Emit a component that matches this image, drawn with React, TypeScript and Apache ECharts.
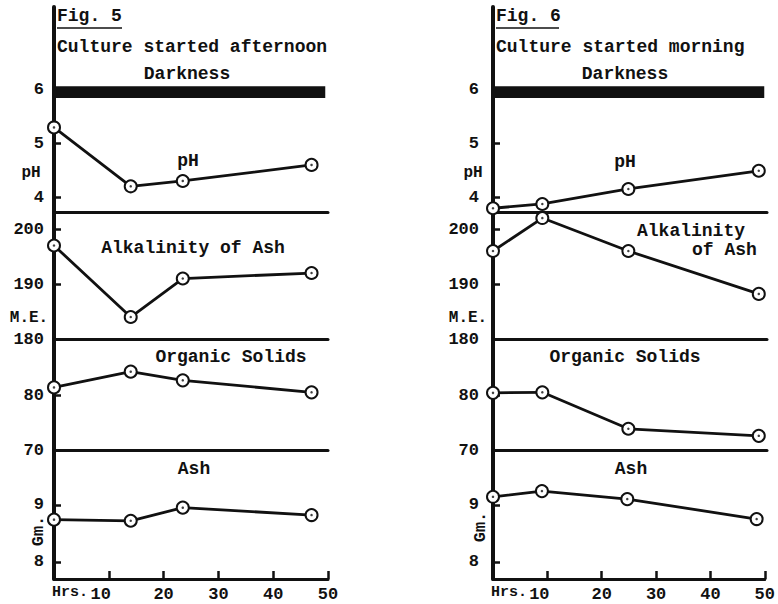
import React, { useEffect, useRef } from "react";
import * as echarts from "echarts";

// Fig. 5 — culture started afternoon
const hours5 = [0, 14, 23.5, 47];
const ph5 = [5.3, 4.2, 4.3, 4.6];
const alk5 = [197, 184, 191, 192];
const org5 = [81.5, 84.4, 82.8, 80.6];
const ash5 = [8.74, 8.72, 8.95, 8.82];

// Fig. 6 — culture started morning
const hours6 = [0, 9, 24.7, 48.5];
const ph6 = [3.79, 3.87, 4.15, 4.49];
const alk6 = [196, 202, 196, 188.2];
const org6 = [80.5, 80.6, 73.9, 72.6];
const ash6 = [9.14, 9.24, 9.1, 8.75];

// darkness band (pH units, hours)
const darkLow = 5.85;
const darkHigh = 6.07;
const darkEnd = 49.5;

const xTicks = [10, 20, 30, 40, 50];
const phTicks = [4, 5, 6];
const alkTicks = [180, 190, 200];
const orgTicks = [70, 80];
const ashTicks = [8, 9];

const INK = "#111";
const FONT = "Liberation Mono";

const panels = [
  { top: 7, height: 205, min: 3.72, max: 7.55, ticks: phTicks },
  { top: 212, height: 127, min: 180, max: 203.1, ticks: alkTicks },
  { top: 339, height: 111, min: 70, max: 90.4, ticks: orgTicks },
  { top: 450, height: 129, min: 7.7, max: 9.96, ticks: ashTicks },
];

function buildFig(
  base: number,
  left: number,
  hours: number[],
  values: number[][],
  labelMargin: number
) {
  const grids: any[] = [];
  const xAxes: any[] = [];
  const yAxes: any[] = [];
  const series: any[] = [];
  panels.forEach((p, k) => {
    const gi = base + k;
    const isBottom = k === panels.length - 1;
    grids.push({ left, top: p.top, width: 274, height: p.height });
    xAxes.push({
      type: "value",
      gridIndex: gi,
      min: 0,
      max: 50,
      axisLine: { show: true, lineStyle: { color: INK, width: 3 } },
      splitLine: { show: false },
      axisTick: isBottom
        ? { show: true, inside: true, length: 8, customValues: xTicks, lineStyle: { color: INK, width: 2.5 } }
        : { show: false },
      axisLabel: isBottom
        ? {
            show: true,
            customValues: xTicks,
            margin: 7,
            formatter: (v: number) => (v === 10 ? "{a|10}" : "{b|" + v + "}"),
            rich: {
              a: { fontFamily: FONT, fontWeight: "bold", fontSize: 17, color: INK, padding: [0, 16, 0, 0] },
              b: { fontFamily: FONT, fontWeight: "bold", fontSize: 17, color: INK },
            },
          }
        : { show: false },
    });
    yAxes.push({
      type: "value",
      gridIndex: gi,
      min: p.min,
      max: p.max,
      axisLine: { show: true, lineStyle: { color: INK, width: 4 } },
      splitLine: { show: false },
      axisTick: { show: true, inside: true, length: 7, customValues: p.ticks, lineStyle: { color: INK, width: 2.5 } },
      axisLabel: {
        show: true,
        customValues: p.ticks,
        margin: labelMargin,
        fontFamily: FONT,
        fontWeight: "bold",
        fontSize: 17,
        color: INK,
      },
    });
    const data = hours.map((h, i) => [h, values[k][i]]);
    const s: any = {
      type: "line",
      xAxisIndex: gi,
      yAxisIndex: gi,
      data,
      clip: false,
      symbol: "emptyCircle",
      symbolSize: 12,
      lineStyle: { color: INK, width: 2.8 },
      itemStyle: { color: INK, borderColor: INK, borderWidth: 3 },
      z: 3,
    };
    if (k === 0) {
      s.markArea = {
        silent: true,
        itemStyle: { color: INK },
        data: [[{ xAxis: 0, yAxis: darkLow }, { xAxis: darkEnd, yAxis: darkHigh }]],
      };
    }
    series.push(s);
    series.push({
      type: "scatter",
      xAxisIndex: gi,
      yAxisIndex: gi,
      data,
      clip: false,
      symbol: "circle",
      symbolSize: 2.5,
      itemStyle: { color: INK },
      z: 5,
    });
  });
  return { grids, xAxes, yAxes, series };
}

function txt(text: string, x: number, y: number, size: number, align = "left", rotation = 0) {
  return {
    type: "text",
    x,
    y,
    rotation,
    style: {
      text,
      fill: INK,
      fontFamily: FONT,
      fontWeight: "bold",
      fontSize: size,
      align,
      verticalAlign: "middle",
    },
    z: 10,
  };
}

export default function App() {
  const ref = useRef<HTMLDivElement>(null);
  useEffect(() => {
    if (!ref.current) return;
    const chart = echarts.init(ref.current, undefined, { renderer: "svg" });
    const f5 = buildFig(0, 54, hours5, [ph5, alk5, org5, ash5], 10);
    const f6 = buildFig(4, 493, hours6, [ph6, alk6, org6, ash6], 14);
    const graphics: any[] = [
      txt("Fig. 5", 57, 16, 18),
      { type: "line", shape: { x1: 57, y1: 28, x2: 122, y2: 28 }, style: { stroke: INK, lineWidth: 1.5 } },
      txt("Culture started afternoon", 57, 47, 18),
      txt("Darkness", 187, 74, 18, "center"),
      txt("pH", 188, 161, 18, "center"),
      txt("Alkalinity of Ash", 193, 248, 18, "center"),
      txt("Organic Solids", 231, 357, 18, "center"),
      txt("Ash", 194, 469, 18, "center"),
      txt("pH", 31, 173, 16, "center"),
      txt("M.E.", 29, 318, 16, "center"),
      txt("Gm.", 38, 531, 17, "center", Math.PI / 2),
      txt("Hrs.", 52, 592, 15),

      txt("Fig. 6", 496, 16, 18),
      { type: "line", shape: { x1: 496, y1: 28, x2: 559, y2: 28 }, style: { stroke: INK, lineWidth: 1.5 } },
      txt("Culture started morning", 496, 47, 18),
      txt("Darkness", 625, 74, 18, "center"),
      txt("pH", 625, 162, 18, "center"),
      txt("Alkalinity", 637, 231, 18),
      txt("of Ash", 692, 250, 18),
      txt("Organic Solids", 625, 357, 18, "center"),
      txt("Ash", 631, 469, 18, "center"),
      txt("pH", 473, 173, 16, "center"),
      txt("M.E.", 468, 318, 16, "center"),
      txt("Gm.", 480, 527, 17, "center", Math.PI / 2),
      txt("Hrs.", 491, 592, 15),
    ];
    chart.setOption({
      animation: false,
      backgroundColor: "#fff",
      grid: [...f5.grids, ...f6.grids],
      xAxis: [...f5.xAxes, ...f6.xAxes],
      yAxis: [...f5.yAxes, ...f6.yAxes],
      series: [...f5.series, ...f6.series],
      graphic: graphics,
    });
    return () => chart.dispose();
  }, []);
  return (
    <div
      ref={ref}
      style={{ position: "absolute", left: 0, top: 0, width: 778, height: 604, background: "#fff" }}
    />
  );
}
